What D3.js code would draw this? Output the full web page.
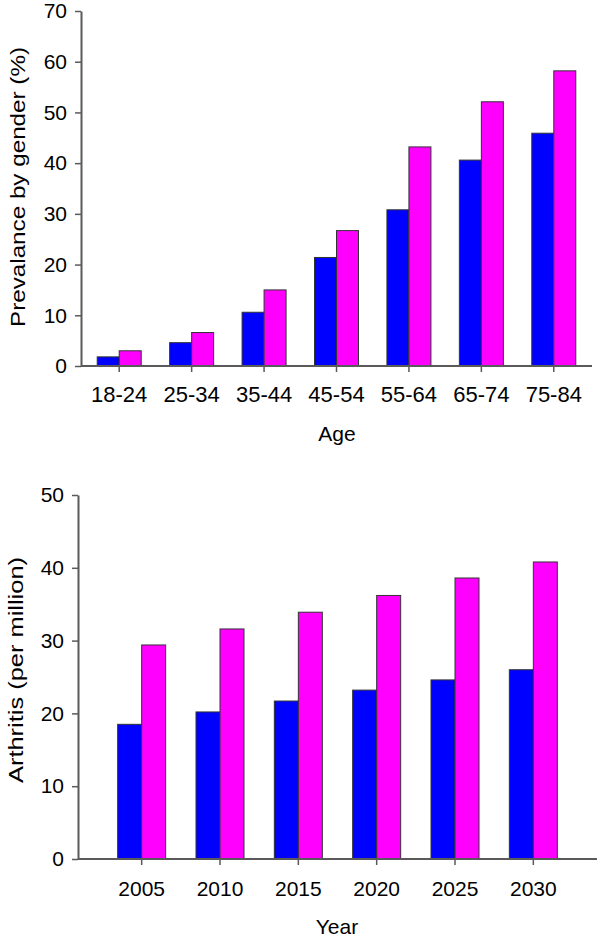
<!DOCTYPE html>
<html><head><meta charset="utf-8">
<script src="https://cdn.jsdelivr.net/npm/d3@7"></script>
<style>
body{margin:0;background:#fff;}
text{font-family:"Liberation Sans",Arial,sans-serif;fill:#000;}
</style></head>
<body><svg id="c" width="600" height="937"></svg>
<script>
// Top chart data
const ageCategories = ["18-24","25-34","35-44","45-54","55-64","65-74","75-84"];
const ageBlue = [1.8, 4.6, 10.6, 21.4, 30.8, 40.6, 45.9];
const ageMagenta = [3.0, 6.6, 15.0, 26.7, 43.2, 52.1, 58.2];
const ageTicks = [0,10,20,30,40,50,60,70];

// Bottom chart data
const years = ["2005","2010","2015","2020","2025","2030"];
const yearBlue = [18.5, 20.2, 21.7, 23.2, 24.6, 26.0];
const yearMagenta = [29.4, 31.6, 33.9, 36.2, 38.6, 40.8];
const yearTicks = [0,10,20,30,40,50];

const svg = d3.select("#c");
const BLUE = "#0000ff", MAG = "#ff00ff", AX = "#5a5a5a";
const FF = '"Liberation Sans",Arial,sans-serif';

function drawChart(o){
  const g = svg.append("g");
  const x = d3.scaleBand().domain(o.cats).range(o.xRange);
  const y = d3.scaleLinear().domain(o.yDomain).range(o.yRange);
  const bw = o.barW;
  o.cats.forEach((c,i)=>{
    const cx = x(c) + x.bandwidth()/2;
    g.append("rect").attr("x", cx - bw).attr("width", bw)
      .attr("y", y(o.blue[i])).attr("height", y(0) - y(o.blue[i]))
      .attr("fill", BLUE).attr("stroke", "#333").attr("stroke-width", 1);
    g.append("rect").attr("x", cx).attr("width", bw)
      .attr("y", y(o.mag[i])).attr("height", y(0) - y(o.mag[i]))
      .attr("fill", MAG).attr("stroke", "#333").attr("stroke-width", 1);
  });
  const ya = g.append("g").attr("transform", `translate(${o.yAxisX},0)`)
    .call(d3.axisLeft(y).tickValues(o.ticks).tickSize(6).tickSizeOuter(0).tickPadding(8));
  ya.select(".domain").attr("stroke", AX).attr("stroke-width", 2);
  ya.selectAll(".tick line").attr("stroke", AX).attr("stroke-width", 1.5);
  ya.selectAll(".tick text").style("font-size", "21px").attr("fill", "#000").style("font-family", FF);
  const xa = g.append("g").attr("transform", `translate(0,${y(0)})`)
    .call(d3.axisBottom(x).tickSize(6).tickSizeOuter(0).tickPadding(o.xPad));
  xa.select(".domain").remove();
  xa.selectAll(".tick line").attr("stroke", AX).attr("stroke-width", 1.5);
  xa.selectAll(".tick text").style("font-size", o.xFont + "px").attr("fill", "#000").style("font-family", FF);
  g.append("line").attr("x1", o.yAxisX).attr("x2", o.xEnd)
    .attr("y1", y(0)).attr("y2", y(0)).attr("stroke", AX).attr("stroke-width", 2);
  g.append("text").attr("x", o.xLabelPos[0]).attr("y", o.xLabelPos[1])
    .attr("text-anchor", "middle").style("font-size", "21px").text(o.xLabel);
  g.append("text").attr("transform", `translate(${o.yLabelPos[0]},${o.yLabelPos[1]}) rotate(-90)`)
    .attr("text-anchor", "middle").attr("dy", "0.35em").style("font-size", "20px")
    .attr("textLength", o.yLabelLen).attr("lengthAdjust", "spacingAndGlyphs")
    .text(o.yLabel);
}

drawChart({cats: ageCategories, blue: ageBlue, mag: ageMagenta, ticks: ageTicks,
  xRange: [83, 590], yDomain: [0,70], yRange: [366, 11], barW: 22, xPad: 14, xFont: 22,
  yAxisX: 81, xEnd: 592, xLabel: "Age", xLabelPos: [337, 441],
  yLabel: "Prevalance by gender (%)", yLabelPos: [18, 187], yLabelLen: 280});

drawChart({cats: years, blue: yearBlue, mag: yearMagenta, ticks: yearTicks,
  xRange: [102.5, 572.5], yDomain: [0,50], yRange: [859, 495], barW: 24, xPad: 16, xFont: 21,
  yAxisX: 78, xEnd: 597, xLabel: "Year", xLabelPos: [337, 934],
  yLabel: "Arthritis (per million)", yLabelPos: [16, 670], yLabelLen: 226});
</script></body></html>
